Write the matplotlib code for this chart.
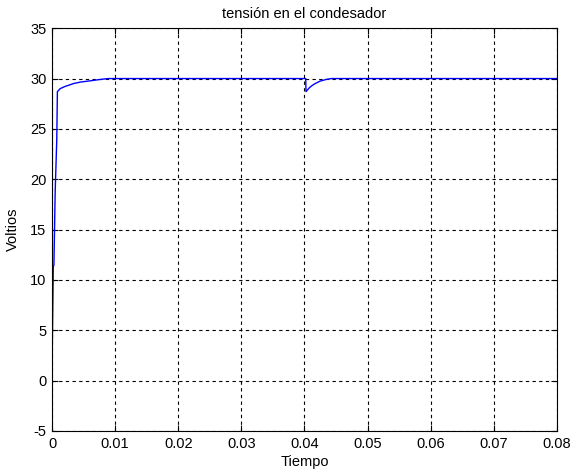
import numpy as np
import matplotlib
matplotlib.use('Agg')
import matplotlib.pyplot as plt

plt.rcParams['font.family'] = ['Liberation Sans', 'DejaVu Sans']
plt.rcParams['axes.unicode_minus'] = False

# capacitor voltage
tiempo = [0.0, 0.0001, 0.0002, 0.0003, 0.0005, 0.00075, 0.00085, 0.0013,
          0.002, 0.0034, 0.0045, 0.006, 0.0075, 0.0089, 0.02, 0.0402,
          0.04025, 0.0408, 0.0412, 0.0417, 0.0425, 0.0435, 0.0443, 0.06, 0.08]
voltios = [1.2, 6.3, 11.3, 11.5, 18.8, 23.9, 28.7, 29.0,
           29.2, 29.5, 29.65, 29.77, 29.9, 30.0, 30.0, 30.0,
           28.7, 29.1, 29.3, 29.5, 29.75, 29.92, 30.0, 30.0, 30.0]

fig = plt.figure(figsize=(5.73, 4.70), dpi=100)
ax = fig.add_axes([0.0908, 0.083, 0.881, 0.857])
ax.plot(tiempo, voltios, color='#0000ff', linewidth=1.0)

ax.set_xlim(0, 0.08)
ax.set_ylim(-5, 35)
ax.set_xticks(np.arange(0, 0.081, 0.01))
ax.set_xticklabels(['0', '0.01', '0.02', '0.03', '0.04', '0.05', '0.06', '0.07', '0.08'])
ax.set_yticks(range(-5, 36, 5))
ax.grid(True, color='black', linestyle=(0, (3, 3)), linewidth=0.8)
ax.tick_params(direction='in', top=True, right=True, labelsize=10.5, length=4, pad=4)
for s in ax.spines.values():
    s.set_linewidth(0.8)

ax.set_title('tensión en el condesador', fontsize=10.5, pad=7)
ax.set_xlabel('Tiempo', fontsize=10.5, labelpad=3)
ax.set_ylabel('Voltios', fontsize=10.5, labelpad=7)

plt.savefig('out.png')
